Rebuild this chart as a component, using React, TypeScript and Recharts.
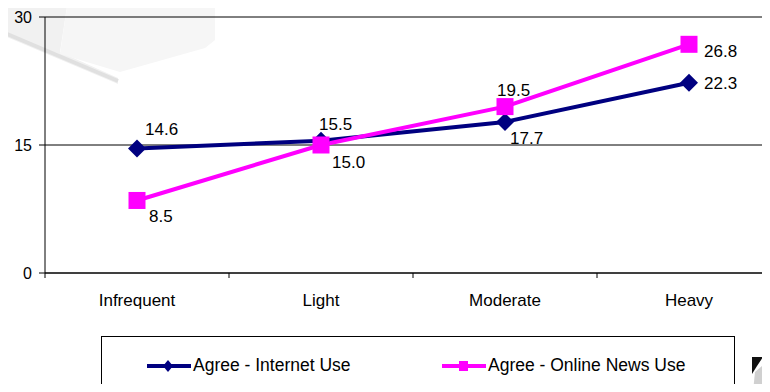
import React from "react";
import { CartesianGrid, LabelList, Line, LineChart, XAxis, YAxis } from "recharts";

// values
const categories = ["Infrequent", "Light", "Moderate", "Heavy"];
const internetUse = [14.6, 15.5, 17.7, 22.3];
const newsUse = [8.5, 15.0, 19.5, 26.8];
const yTicks = [0, 15, 30];
const seriesNames = ["Agree - Internet Use", "Agree - Online News Use"];

// label placement per point: [dx, dy to baseline]
const internetLabelPos = [[8, -13], [-2, -11], [5, 22], [15, 6]];
const newsLabelPos = [[12, 22], [11, 23], [-8, -11], [15, 13]];

const NAVY = "#000080";
const PINK = "#ff00ff";
const FONT = "'Liberation Sans', Arial, sans-serif";

const CHART_W = 790;
const CHART_H = 392;
const MARGIN = { top: 17, right: 9, bottom: 89, left: 0 };
const Y_AXIS_W = 45;
const BAND = (CHART_W - MARGIN.left - MARGIN.right - Y_AXIS_W) / categories.length;
const TICK_SIZE = 5;
const TICK_MARGIN = 16;

const data = categories.map((c, i) => ({ cat: c, internet: internetUse[i], news: newsUse[i] }));

function Diamond(props: any) {
  const { cx, cy, index } = props;
  const r = 9;
  return (
    <polygon
      key={`dia-${index}`}
      points={`${cx},${cy - r} ${cx + r},${cy} ${cx},${cy + r} ${cx - r},${cy}`}
      fill={NAVY}
    />
  );
}

function Square(props: any) {
  const { cx, cy, index } = props;
  const s = 8.5;
  return <rect key={`sq-${index}`} x={cx - s} y={cy - s} width={s * 2} height={s * 2} fill={PINK} />;
}

function makeLabel(pos: number[][]) {
  return (props: any) => {
    const { x, y, value, index } = props;
    const [dx, dy] = pos[index] ?? [0, 0];
    return (
      <text x={x + dx} y={y + dy} fontSize={17} fontFamily={FONT} fill="#000" textAnchor="start">
        {Number(value).toFixed(1)}
      </text>
    );
  };
}

// category label in the middle, tick marks at the band edges
function CategoryTick(props: any) {
  const { x, y, payload, index } = props;
  const axisY = y - TICK_SIZE - TICK_MARGIN;
  const left = x - BAND / 2;
  return (
    <g>
      <line x1={left} y1={axisY} x2={left} y2={axisY + TICK_SIZE} stroke="#000" />
      {index === categories.length - 1 && (
        <line x1={x + BAND / 2} y1={axisY} x2={x + BAND / 2} y2={axisY + TICK_SIZE} stroke="#000" />
      )}
      <text x={x} y={y} dy="0.71em" textAnchor="middle" fontSize={17} fontFamily={FONT} fill="#000">
        {payload.value}
      </text>
    </g>
  );
}

function LegendIcon({ color, shape }: { color: string; shape: "diamond" | "square" }) {
  return (
    <svg width={44} height={16} style={{ display: "block" }}>
      <line x1={0} y1={8} x2={44} y2={8} stroke={color} strokeWidth={4} />
      {shape === "diamond" ? (
        <polygon points="21,2 26,8 21,14 16,8" fill={color} />
      ) : (
        <rect x={17} y={3} width={9} height={10} fill={color} />
      )}
    </svg>
  );
}

export default function App() {
  return (
    <div
      style={{
        margin: -8,
        width: 770,
        height: 392,
        overflow: "hidden",
        position: "relative",
        background: "#fff",
        fontFamily: FONT,
      }}
    >
      {/* faded clip-art behind the plot */}
      <svg width={770} height={392} style={{ position: "absolute", left: 0, top: 0 }}>
        <polygon points="0,0 68,0 60,52 118,78 118,84 0,34" fill="#f1f1f1" />
        <polygon points="68,0 215,0 215,40 205,48 120,72 60,54" fill="#f6f6f6" />
        <line x1={0} y1={31} x2={118} y2={81} stroke="#e0e0e0" strokeWidth={4} />
        <polygon points="752,357 763,357 757,366 752,374" fill="#111" />
        <polygon points="755,372 762,366 764,380 758,392 753,392" fill="#d0d0d0" />
      </svg>

      <div style={{ position: "absolute", left: 0, top: 0 }}>
        <LineChart width={CHART_W} height={CHART_H} data={data} margin={MARGIN}>
          <CartesianGrid vertical={false} stroke="#000" strokeWidth={1} />
          <XAxis
            dataKey="cat"
            height={30}
            padding={{ left: BAND / 2, right: BAND / 2 }}
            axisLine={{ stroke: "#000" }}
            tickLine={false}
            tickSize={TICK_SIZE}
            tickMargin={TICK_MARGIN}
            tick={<CategoryTick />}
            interval={0}
          />
          <YAxis
            width={Y_AXIS_W}
            domain={[0, 30]}
            ticks={yTicks}
            axisLine={{ stroke: "#000" }}
            tickLine={{ stroke: "#000" }}
            tickSize={6}
            tickMargin={7}
            tick={{ fontSize: 16, fill: "#000", fontFamily: FONT }}
          />
          <Line
            dataKey="internet"
            name={seriesNames[0]}
            type="linear"
            stroke={NAVY}
            strokeWidth={4}
            dot={Diamond}
            activeDot={false}
            isAnimationActive={false}
          >
            <LabelList dataKey="internet" content={makeLabel(internetLabelPos)} />
          </Line>
          <Line
            dataKey="news"
            name={seriesNames[1]}
            type="linear"
            stroke={PINK}
            strokeWidth={4}
            dot={Square}
            activeDot={false}
            isAnimationActive={false}
          >
            <LabelList dataKey="news" content={makeLabel(newsLabelPos)} />
          </Line>
        </LineChart>
      </div>

      {/* legend box, bottom edge runs past the frame */}
      <div
        style={{
          position: "absolute",
          left: 101,
          top: 336,
          width: 632,
          height: 80,
          border: "1px solid #000",
          background: "#fff",
        }}
      >
        <div style={{ position: "absolute", left: 45, top: 18, display: "flex", alignItems: "center" }}>
          <LegendIcon color={NAVY} shape="diamond" />
          <span style={{ fontSize: 17.5, marginLeft: 2, color: "#000" }}>{seriesNames[0]}</span>
        </div>
        <div style={{ position: "absolute", left: 340, top: 18, display: "flex", alignItems: "center" }}>
          <LegendIcon color={PINK} shape="square" />
          <span style={{ fontSize: 17.5, marginLeft: 2, color: "#000" }}>{seriesNames[1]}</span>
        </div>
      </div>
    </div>
  );
}
